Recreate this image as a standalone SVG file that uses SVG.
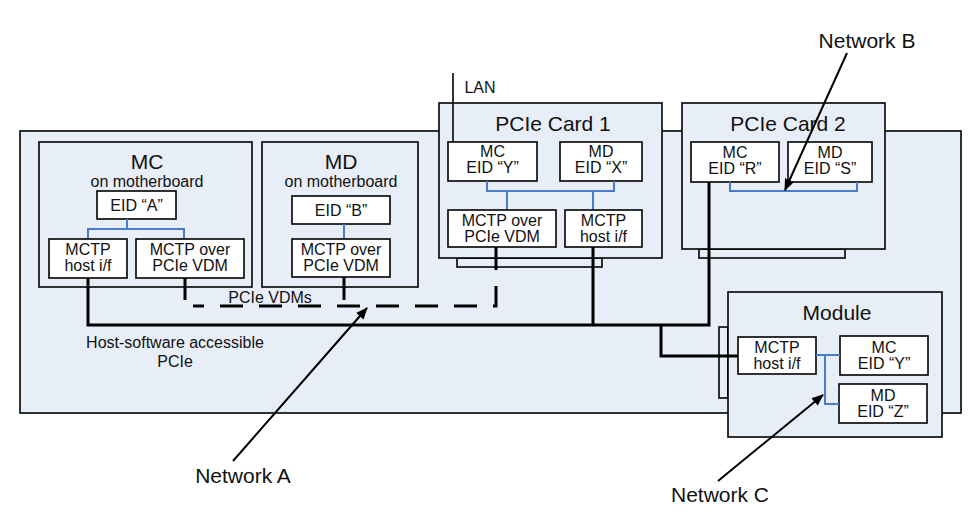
<svg xmlns="http://www.w3.org/2000/svg" width="976" height="517" viewBox="0 0 976 517">
<style>
text{font-family:"Liberation Sans",Arial,sans-serif;fill:#111;text-anchor:middle}
.t{font-size:21px}
.s{font-size:16px}
.panel{fill:#E8EEF7;stroke:#000;stroke-width:1.6}
.box{fill:#fff;stroke:#000;stroke-width:1.6}
.blue{fill:none;stroke:#4A7CC9;stroke-width:2}
.bus{fill:none;stroke:#000;stroke-width:3}
.dash{fill:none;stroke:#000;stroke-width:3;stroke-dasharray:23 16}
.thin{fill:none;stroke:#000;stroke-width:1.6}
.arr{fill:none;stroke:#000;stroke-width:2;marker-end:url(#ah)}
</style>
<defs>
<marker id="ah" viewBox="0 0 12 10" refX="11" refY="5" markerWidth="12" markerHeight="10" markerUnits="userSpaceOnUse" orient="auto">
<path d="M0,0 L12,5 L0,10 z" fill="#000"/>
</marker>
</defs>
<rect width="976" height="517" fill="#fff"/>

<g id="motherboard">
<rect class="panel" x="20" y="131" width="941" height="282"/>
</g>

<g id="mc-motherboard">
<rect class="panel" x="39" y="142" width="213" height="145"/>
<text class="t" x="147" y="169">MC</text>
<text class="s" x="147" y="187">on motherboard</text>
<rect class="box" x="97" y="191" width="79" height="28"/>
<text class="s" x="136.500" y="211">EID “A”</text>
<path class="blue" d="M127,219 V229 M88,239 V229 H184 V239"/>
<rect class="box" x="49" y="239" width="78" height="39"/>
<text class="s" x="88" y="255">MCTP</text>
<text class="s" x="88" y="271">host i/f</text>
<rect class="box" x="136" y="239" width="108" height="39"/>
<text class="s" x="190" y="255">MCTP over</text>
<text class="s" x="190" y="271">PCIe VDM</text>
</g>

<g id="md-motherboard">
<rect class="panel" x="262" y="142" width="156" height="145"/>
<text class="t" x="341" y="169">MD</text>
<text class="s" x="341" y="187">on motherboard</text>
<rect class="box" x="292" y="196" width="98" height="28"/>
<text class="s" x="341" y="216">EID “B”</text>
<path class="blue" d="M344,224 V239"/>
<rect class="box" x="292" y="239" width="98" height="38"/>
<text class="s" x="341" y="255">MCTP over</text>
<text class="s" x="341" y="271">PCIe VDM</text>
</g>

<g id="pcie-card-1">
<rect class="thin" x="457" y="258" width="145" height="9"/>
<rect class="panel" x="439" y="103" width="223" height="155"/>
<text class="t" x="553" y="131">PCIe Card 1</text>
<rect class="box" x="448" y="142" width="89" height="39"/>
<text class="s" x="492.500" y="157">MC</text>
<text class="s" x="492.500" y="173">EID “Y”</text>
<rect class="box" x="560" y="142" width="82" height="39"/>
<text class="s" x="601" y="157">MD</text>
<text class="s" x="601" y="173">EID “X”</text>
<path class="blue" d="M487,181 V191 H614 V181 M507,191 V210 M593,191 V210"/>
<rect class="box" x="448" y="210" width="108" height="37"/>
<text class="s" x="502" y="226">MCTP over</text>
<text class="s" x="502" y="242">PCIe VDM</text>
<rect class="box" x="565" y="210" width="77" height="37"/>
<text class="s" x="603.500" y="226">MCTP</text>
<text class="s" x="603.500" y="242">host i/f</text>
</g>

<g id="pcie-card-2">
<rect class="thin" x="699" y="249" width="146" height="9"/>
<rect class="panel" x="682" y="103" width="203" height="146"/>
<text class="t" x="788" y="131">PCIe Card 2</text>
<rect class="box" x="691" y="142" width="88" height="40"/>
<text class="s" x="735" y="158">MC</text>
<text class="s" x="735" y="174">EID “R”</text>
<rect class="box" x="788" y="142" width="84" height="40"/>
<text class="s" x="830" y="158">MD</text>
<text class="s" x="830" y="174">EID “S”</text>
<path class="blue" d="M730,182 V191 H857 V182"/>
</g>

<g id="module">
<rect class="thin" x="719" y="327" width="9" height="71"/>
<rect class="panel" x="728" y="292" width="214" height="145"/>
<text class="t" x="837" y="320">Module</text>
<rect class="box" x="738" y="337" width="78" height="37"/>
<text class="s" x="777" y="353">MCTP</text>
<text class="s" x="777" y="369">host i/f</text>
<rect class="box" x="840" y="336" width="88" height="39"/>
<text class="s" x="884" y="353">MC</text>
<text class="s" x="884" y="369">EID “Y”</text>
<rect class="box" x="839" y="384" width="88" height="39"/>
<text class="s" x="883" y="401">MD</text>
<text class="s" x="883" y="417">EID “Z”</text>
<path class="blue" d="M816,355 H840 M825,355 V404 H839"/>
</g>

<g id="connectors">
<path class="thin" d="M453,73 V142"/>
<path class="bus" d="M88,278 V325 H709 V182 M593,247 V325 M661,325 V356 H738"/>
<path class="bus" d="M185,278 V300 M344,277 V300"/>
<path class="dash" d="M496,247 V306 H193"/>
<path class="arr" d="M847,53 L785,190"/>
<path class="arr" d="M233,461 L367,308"/>
<path class="arr" d="M718,481 L823,395"/>
</g>

<g id="labels">
<text class="s" x="480" y="93">LAN</text>
<text class="s" x="270" y="303">PCIe VDMs</text>
<text class="s" x="175" y="348">Host-software accessible</text>
<text class="s" x="175" y="367">PCIe</text>
<text class="t" x="867" y="48">Network B</text>
<text class="t" x="243" y="483">Network A</text>
<text class="t" x="720" y="502">Network C</text>
</g>
</svg>
